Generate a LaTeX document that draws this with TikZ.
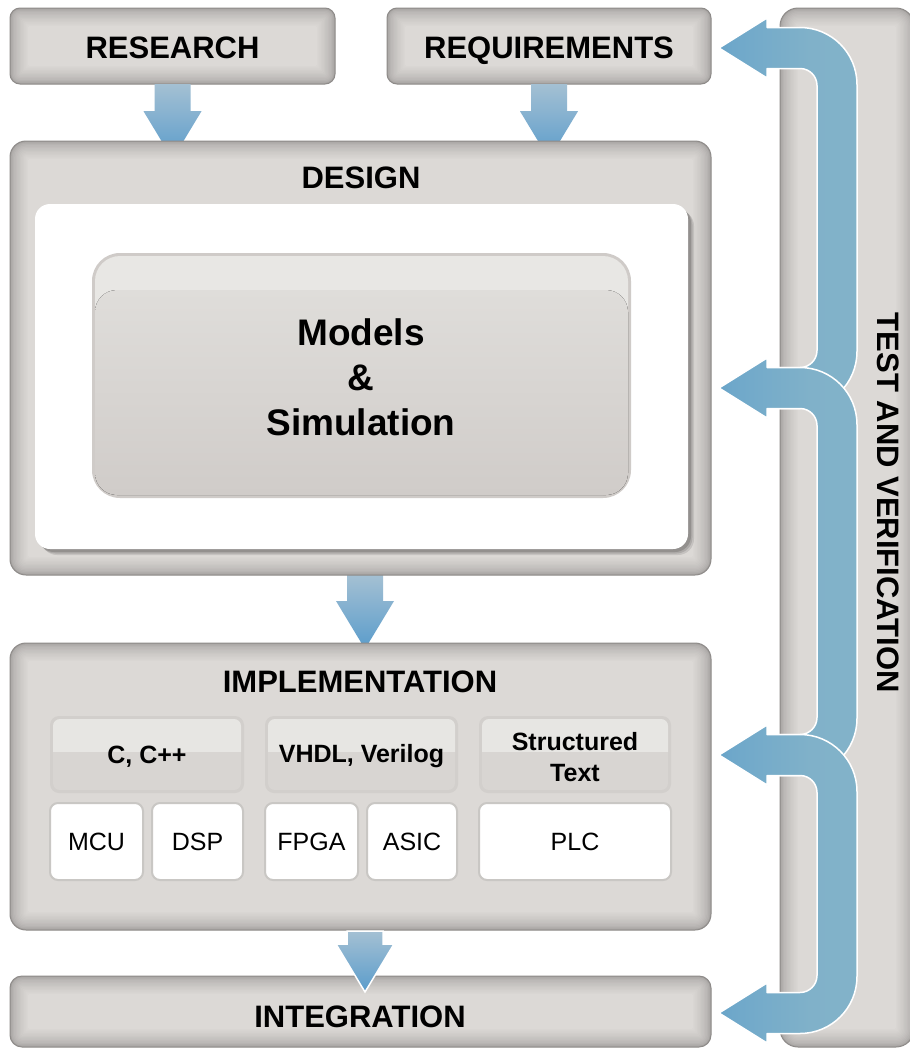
\documentclass[tikz,border=0pt]{standalone}
\usepackage{fontspec}
\setmainfont{Liberation Sans}
\usetikzlibrary{calc,fit}

\definecolor{boxout}{HTML}{A6A3A1}
\definecolor{boxin}{HTML}{DCD9D6}
\definecolor{boxline}{HTML}{8E8B89}
\definecolor{langborder}{HTML}{D2CFCC}
\definecolor{langbody}{HTML}{D8D5D2}
\definecolor{langgloss}{HTML}{E7E6E3}
\definecolor{hwline}{HTML}{C9C7C4}
\definecolor{modborder}{HTML}{CFCBC8}
\definecolor{modtop}{HTML}{DFDDDA}
\definecolor{modbot}{HTML}{D0CCC9}
\definecolor{modgloss}{HTML}{E8E7E4}
\definecolor{blueL}{HTML}{4A8FC2}
\definecolor{blueM}{HTML}{6FA8CA}
\definecolor{blueN}{HTML}{80B1C9}
\definecolor{blueR}{HTML}{86B5CA}
\definecolor{dtop}{HTML}{A4C0D3}
\definecolor{dbot}{HTML}{5A9CCB}

\pgfdeclarehorizontalshading{brkshade}{100bp}{color(0bp)=(blueL); color(30bp)=(blueM); color(58bp)=(blueN); color(100bp)=(blueR)}

% gloss box with soft darker rim
\newcommand{\gbox}[6]{%
  \foreach \k in {0,...,13}{%
    \pgfmathsetmacro{\dd}{\k*1.4}%
    \pgfmathsetmacro{\rr}{max(#6-\dd,1)}%
    \pgfmathtruncatemacro{\pp}{100*(\k/13)^0.6}%
    \fill[boxin!\pp!boxout, rounded corners=\rr pt] (#2+\dd,#3+\dd) rectangle (#4-\dd,#5-\dd);
  }%
  \draw[boxline, line width=1pt, rounded corners=#6 pt] (#2,#3) rectangle (#4,#5);
  \node[fit={(#2,#3)(#4,#5)}, inner sep=0pt] (#1) {};
}

% language box with glossy top half
\newcommand{\langbox}[5]{%
  \fill[langborder, rounded corners=9pt] (#2,#3) rectangle (#4,#5);
  \fill[langbody, rounded corners=7pt] (#2+3,#3+3) rectangle (#4-3,#5-3);
  \begin{scope}
    \clip (#2,#3) rectangle (#4,{(#3+#5)/2-3});
    \fill[langgloss, rounded corners=7pt] (#2+3,#3+3) rectangle (#4-3,#5-3);
  \end{scope}
  \node[fit={(#2,#3)(#4,#5)}, inner sep=0pt] (#1) {};
}

% hardware (white) box
\newcommand{\hwbox}[5]{%
  \fill[white, draw=hwline, line width=2pt, rounded corners=8pt] (#2,#3) rectangle (#4,#5);
  \node[fit={(#2,#3)(#4,#5)}, inner sep=0pt] (#1) {};
}

% vertical block arrow: #1 start point, #2 shaft length, #3 extra style
\newcommand{\darrow}[3]{%
  \path[darrowfill,#3] ($(#1)+(-18,0)$) -- ($(#1)+(18,0)$) -- ($(#1)+(18,#2)$)
    -- ($(#1)+(29,#2)$) -- ($(#1)+(0,#2+48)$) -- ($(#1)+(-29,#2)$)
    -- ($(#1)+(-18,#2)$) -- cycle;
}

% feedback bracket arrow: #1 top y, #2 bottom y
\newcommand{\bracketarrow}[2]{%
  \path[arrowfill] (719,#1) -- (767,#1-30) -- (767,#1-20.5) -- (800,#1-20.5)
    .. controls (831.5,#1-20.5) and (857,#1+5) .. (857,#1+36.5)
    -- (857,#2-36.5)
    .. controls (857,#2-5) and (831.5,#2+20.5) .. (800,#2+20.5)
    -- (767,#2+20.5) -- (767,#2+30) -- (719,#2) -- (767,#2-30) -- (767,#2-20.5)
    -- (800,#2-20.5)
    .. controls (809.4,#2-20.5) and (817,#2-28.1) .. (817,#2-37.5)
    -- (817,#1+37.5)
    .. controls (817,#1+28.1) and (809.4,#1+20.5) .. (800,#1+20.5)
    -- (767,#1+20.5) -- (767,#1+30) -- cycle;
}

\begin{document}
\begin{tikzpicture}[x=1pt,y=-1pt,
  title/.style={font=\bfseries\fontsize{31}{31}\selectfont, inner sep=0pt, anchor=base},
  lang/.style={font=\bfseries\fontsize{25}{31}\selectfont, align=center, inner sep=0pt},
  hw/.style={font=\fontsize{25}{25}\selectfont, inner sep=0pt},
  big/.style={font=\bfseries\fontsize{37}{45}\selectfont, align=center, inner sep=0pt},
  darrowfill/.style={top color=dtop, bottom color=dbot},
  arrowfill/.style={shading=brkshade, draw=white, line width=1.5pt, line join=round}
]
\useasboundingbox (0,0) rectangle (910,1050);
\fill[white] (0,0) rectangle (910,1050);

% side column
\gbox{testbox}{780}{8}{914}{1047}{18}

% top boxes
\gbox{research}{10}{8}{335}{84}{10}
\gbox{requirements}{387}{8}{711}{84}{10}

% arrows below the main boxes
\darrow{research.south}{27}{}
\darrow{requirements.south}{27}{}

\coordinate (dtopA) at (365,575);
\darrow{dtopA}{26}{}

% main boxes
\gbox{design}{10}{141}{711}{575}{16}
\gbox{impl}{10}{643}{711}{930}{16}
\gbox{integ}{10}{976}{711}{1047}{12}

% white inner box with shadow
\foreach \s/\o in {6/0.10,4.5/0.12,3/0.15}{
  \fill[black, opacity=\o, rounded corners=16pt] (35+\s,204+\s) rectangle (688+\s,549+\s);
}
\fill[white, rounded corners=15pt] (35,204) rectangle (688,549);

% models box
\fill[modborder, rounded corners=28pt] (92,253) rectangle (631,498);
\fill[modgloss, rounded corners=25pt] (95,256) rectangle (628,495);
\fill[top color=modtop, bottom color=modbot, rounded corners=22pt] (95,290) rectangle (628,495);
\node[fit={(92,253)(631,498)}, inner sep=0pt] (models) {};

% implementation sub boxes
\langbox{cbox}{50}{716}{244}{793}
\langbox{vbox}{265}{716}{458}{793}
\langbox{sbox}{479}{716}{671}{793}
\hwbox{mcu}{50}{803}{143}{880}
\hwbox{dsp}{152}{803}{243}{880}
\hwbox{fpga}{265}{803}{358}{880}
\hwbox{asic}{367}{803}{457}{880}
\hwbox{plc}{479}{803}{671}{880}

% implementation -> integration arrow (on top, white outline)
\coordinate (dtopB) at (365,931);
\darrow{dtopB}{13}{draw=white, line width=1.5pt}

% feedback arrows
\bracketarrow{48}{388}
\bracketarrow{388}{755}
\bracketarrow{755}{1013}

% texts
\node[title] (researchT) at (172.5,58) {RESEARCH};
\node[title] (requirementsT) at (549,58) {REQUIREMENTS};
\node[title] (designT) at (361,188) {DESIGN};
\node[big] (modelsT) at (361,377) {Models\\\&\\Simulation};
\node[title] (implT) at (360,692) {IMPLEMENTATION};
\node[title] (integT) at (360,1027) {INTEGRATION};
\node[font=\bfseries\fontsize{31}{31}\selectfont, inner sep=0pt, rotate=-90] (testT) at (888,503) {TEST AND VERIFICATION};

\node[lang] (cT) at ($(cbox)+(0,2)$) {C, C++};
\node[lang] (vT) at ($(vbox)+(0,2)$) {VHDL, Verilog};
\node[lang] (sT) at (575,757) {Structured\\Text};
\node[hw] (mcuT) at (mcu) {MCU};
\node[hw] (dspT) at (dsp) {DSP};
\node[hw] (fpgaT) at (fpga) {FPGA};
\node[hw] (asicT) at (asic) {ASIC};
\node[hw] (plcT) at (plc) {PLC};
\end{tikzpicture}
\end{document}
